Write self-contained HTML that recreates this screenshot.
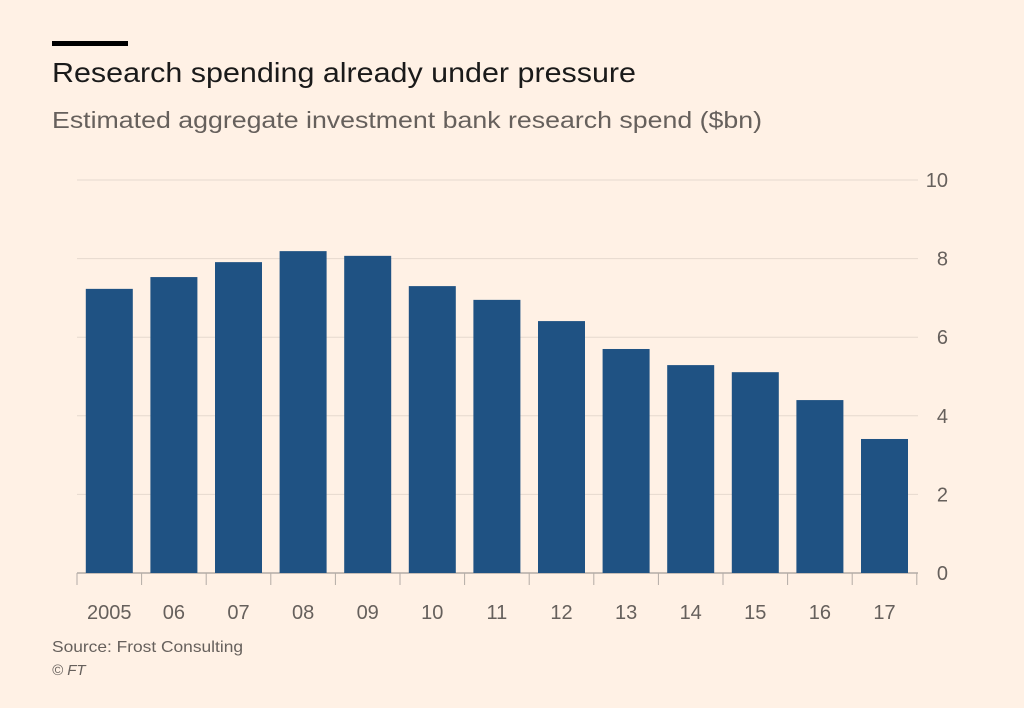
<!DOCTYPE html>
<html><head><meta charset="utf-8"><style>
body{margin:0;background:#fff1e5;font-family:"Liberation Sans",sans-serif;}
svg{display:block}
</style></head><body>
<svg width="1024" height="708">
<rect x="0" y="0" width="1024" height="708" fill="#fff1e5"/>
<rect x="52" y="41" width="76" height="5" fill="#000"/>
<text x="52" y="82" font-size="28" fill="#1a1a1a" textLength="584" lengthAdjust="spacingAndGlyphs">Research spending already under pressure</text>
<text x="52" y="128" font-size="23" fill="#66605c" textLength="710" lengthAdjust="spacingAndGlyphs">Estimated aggregate investment bank research spend ($bn)</text>
<g id="grid"></g><g id="bars"></g><g id="xaxis"></g>
<text x="52" y="652" font-size="16" fill="#66605c" textLength="191" lengthAdjust="spacingAndGlyphs">Source: Frost Consulting</text>
<text x="52" y="675" font-size="15" font-style="italic" fill="#66605c">© FT</text>
</svg>
<script>
const categories=["2005","06","07","08","09","10","11","12","13","14","15","16","17"];
const values=[7.23,7.53,7.91,8.19,8.07,7.30,6.95,6.41,5.70,5.29,5.11,4.40,3.41];
const yTicks=[0,2,4,6,8,10];
const ns="http://www.w3.org/2000/svg";
const x0=77,step=64.6,bw=47,yBase=573,yTop=180,yMax=10;
const y=v=>yBase-(v/yMax)*(yBase-yTop);
const xc=i=>x0+step*i+step/2;
function mk(t,a,p){const e=document.createElementNS(ns,t);for(const k in a)e.setAttribute(k,a[k]);p.appendChild(e);return e;}
const g=document.getElementById('grid'),b=document.getElementById('bars'),xa=document.getElementById('xaxis');
yTicks.forEach(t=>{
 const l=mk('line',{x1:x0,x2:918,y1:y(t),y2:y(t),stroke:t===0?'#b3aca6':'#e6d9ce','stroke-width':t===0?1.5:1},g);
 
 
 const tx=mk('text',{x:948,y:y(t)+7,'font-size':20,fill:'#66605c','text-anchor':'end'},g);
 tx.textContent=t;
 
 
});
categories.forEach((c,i)=>{
 const r=mk('rect',{x:xc(i)-bw/2,y:y(values[i]),width:bw,height:yBase-y(values[i]),fill:'#1f5283'},b);
 
 
 const tk=mk('line',{x1:x0+step*i,x2:x0+step*i,y1:yBase,y2:yBase+12,stroke:'#b3aca6','stroke-width':1},xa);
 
 
 const t=mk('text',{x:xc(i),y:619,'font-size':20,fill:'#66605c','text-anchor':'middle'},xa);
 t.textContent=c;
 
 
});
const last=mk('line',{x1:x0+step*categories.length,x2:x0+step*categories.length,y1:yBase,y2:yBase+12,stroke:'#b3aca6','stroke-width':1},xa);


</script>
</body></html>
